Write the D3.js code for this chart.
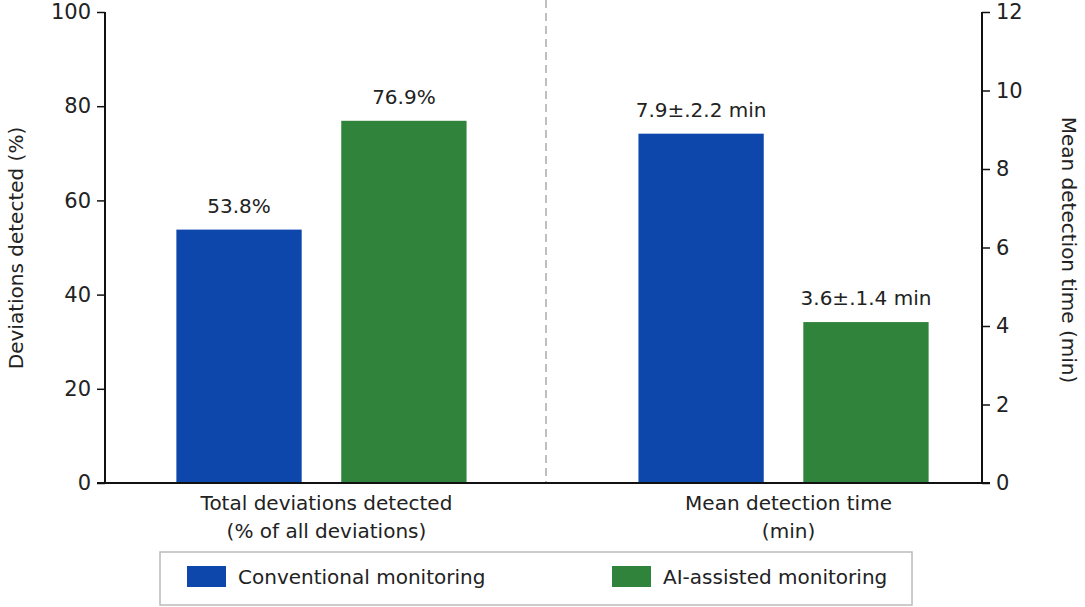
<!DOCTYPE html>
<html>
<head>
<meta charset="utf-8">
<script src="https://cdn.jsdelivr.net/npm/d3@7"></script>
<style>
  body { margin: 0; background: #fff; }
  svg text { font-family: "DejaVu Sans", sans-serif; fill: #222; }
</style>
</head>
<body>
<div id="chart"></div>
<script>
// Data
const groups = ["Total deviations detected", "Mean detection time"];
const groupLines = [["Total deviations detected", "(% of all deviations)"], ["Mean detection time", "(min)"]];
const series = ["Conventional monitoring", "AI-assisted monitoring"];
const deviationValues = [53.8, 76.9];      // left axis, %
const timeValues = [8.9, 4.1];             // right axis, min (as drawn)
const barLabels = [["53.8%", "76.9%"], ["7.9±.2.2 min", "3.6±.1.4 min"]];
const leftTicks = [0, 20, 40, 60, 80, 100];
const rightTicks = [0, 2, 4, 6, 8, 10, 12];
const colors = ["#0d47ab", "#2f833a"];

const width = 1085, height = 607;
const plotLeft = 105, plotRight = 982, plotTop = 12, plotBottom = 483;

const svg = d3.select("#chart").append("svg")
    .attr("width", width)
    .attr("height", height);

const x = d3.scaleBand().domain(groups).range([114, 991]).paddingInner(0.372).paddingOuter(0.135);
const xSub = d3.scaleBand().domain(series).range([0, x.bandwidth()]).paddingInner(0.24);
const yLeft = d3.scaleLinear().domain([0, 100]).range([plotBottom, plotTop]);
const yRight = d3.scaleLinear().domain([0, 12]).range([plotBottom, plotTop]);
const color = d3.scaleOrdinal().domain(series).range(colors);

// divider
svg.append("line")
    .attr("x1", 546).attr("x2", 546)
    .attr("y1", 0).attr("y2", plotBottom)
    .attr("stroke", "#aaa").attr("stroke-width", 1.5)
    .attr("stroke-dasharray", "8,5");

// bars
const barData = [
    series.map((s, i) => ({ g: groups[0], s, v: deviationValues[i], y: yLeft, label: barLabels[0][i] })),
    series.map((s, i) => ({ g: groups[1], s, v: timeValues[i], y: yRight, label: barLabels[1][i] }))
].flat();

svg.selectAll("rect.bar")
    .data(barData)
    .enter()
    .append("rect")
    .attr("class", "bar")
    .attr("x", d => x(d.g) + xSub(d.s))
    .attr("y", d => d.y(d.v))
    .attr("width", xSub.bandwidth())
    .attr("height", d => plotBottom - d.y(d.v))
    .attr("fill", d => color(d.s));

svg.selectAll("text.val")
    .data(barData)
    .enter()
    .append("text")
    .attr("class", "val")
    .attr("x", d => x(d.g) + xSub(d.s) + xSub.bandwidth() / 2)
    .attr("y", d => d.y(d.v) - 17)
    .attr("text-anchor", "middle")
    .attr("font-size", 20)
    .text(d => d.label);

// axes
const axL = svg.append("g")
    .attr("transform", `translate(${plotLeft},0)`)
    .call(d3.axisLeft(yLeft).tickValues(leftTicks).tickSize(8).tickPadding(6));
const axR = svg.append("g")
    .attr("transform", `translate(${plotRight},0)`)
    .call(d3.axisRight(yRight).tickValues(rightTicks).tickSize(8).tickPadding(6));
[axL, axR].forEach(a => {
    a.select(".domain").attr("stroke", "#111").attr("stroke-width", 2).attr("d", `M0,${plotTop}V${plotBottom}`);
    a.selectAll(".tick line").attr("stroke", "#111").attr("stroke-width", 1.5);
    a.selectAll(".tick text").attr("font-size", 21).attr("font-family", "DejaVu Sans, sans-serif").attr("fill", "#222");
});

svg.append("line")
    .attr("x1", plotLeft - 8).attr("x2", plotRight + 8)
    .attr("y1", plotBottom).attr("y2", plotBottom)
    .attr("stroke", "#111").attr("stroke-width", 2);

// category labels
groups.forEach((g, i) => {
    const cx = x(g) + x.bandwidth() / 2 + 5;
    const t = svg.append("text")
        .attr("y", 510)
        .attr("text-anchor", "middle")
        .attr("font-size", 20);
    groupLines[i].forEach((line, j) => {
        t.append("tspan").attr("x", cx).attr("dy", j ? 28 : 0).text(line);
    });
});

// axis titles
svg.append("text")
    .attr("transform", "translate(23,248) rotate(-90)")
    .attr("text-anchor", "middle")
    .attr("font-size", 20)
    .text("Deviations detected (%)");
svg.append("text")
    .attr("transform", "translate(1062,250) rotate(90)")
    .attr("text-anchor", "middle")
    .attr("font-size", 20)
    .text("Mean detection time (min)");

// legend
const legend = svg.append("g");
legend.append("rect")
    .attr("x", 160).attr("y", 552).attr("width", 752).attr("height", 53)
    .attr("fill", "#fff").attr("stroke", "#bbb").attr("stroke-width", 1.5);
const legendX = [187, 612];
series.forEach((s, i) => {
    legend.append("rect")
        .attr("x", legendX[i]).attr("y", 566).attr("width", 39).attr("height", 21)
        .attr("fill", color(s));
    legend.append("text")
        .attr("x", legendX[i] + 51).attr("y", 584)
        .attr("font-size", 20)
        .text(s);
});
</script>
</body>
</html>
